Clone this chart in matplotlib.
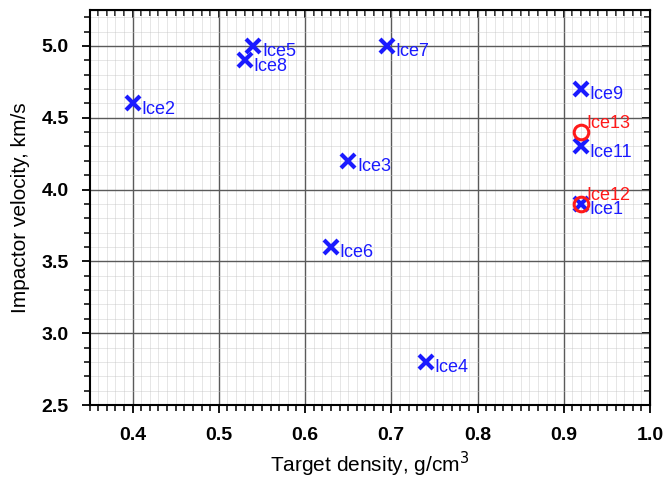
import matplotlib
matplotlib.use("Agg")
import matplotlib.pyplot as plt
from matplotlib.ticker import MultipleLocator

plt.rcParams['font.family'] = ['Liberation Sans', 'DejaVu Sans']

blue_names = ["Ice1", "Ice2", "Ice3", "Ice4", "Ice5", "Ice6", "Ice7", "Ice8", "Ice9", "Ice11"]
blue_density = [0.92, 0.40, 0.65, 0.74, 0.54, 0.63, 0.695, 0.53, 0.92, 0.92]
blue_velocity = [3.9, 4.6, 4.2, 2.8, 5.0, 3.6, 5.0, 4.9, 4.7, 4.3]

red_names = ["Ice12", "Ice13"]
red_density = [0.92, 0.92]
red_velocity = [3.9, 4.4]

x_ticks = [0.4, 0.5, 0.6, 0.7, 0.8, 0.9, 1.0]
y_ticks = [2.5, 3.0, 3.5, 4.0, 4.5, 5.0]

fig = plt.figure(figsize=(6.67, 4.83), dpi=100)
ax = fig.add_axes([89.5 / 667, 1 - 405 / 483, (650 - 89.5) / 667, (405 - 10) / 483])

ax.set_xlim(0.35, 1.0)
ax.set_ylim(2.5, 5.25)

ax.xaxis.set_major_locator(MultipleLocator(0.1))
ax.xaxis.set_minor_locator(MultipleLocator(0.01))
ax.yaxis.set_major_locator(MultipleLocator(0.5))
ax.yaxis.set_minor_locator(MultipleLocator(0.1))
ax.set_xticks(x_ticks)
ax.set_xticklabels([f"{v:.1f}" for v in x_ticks], fontweight='bold', fontsize=14)
ax.set_yticks(y_ticks)
ax.set_yticklabels([f"{v:.1f}" for v in y_ticks], fontweight='bold', fontsize=14)

ax.grid(which='major', color='#5a5a5a', linewidth=1.0, linestyle='-')
ax.grid(which='minor', color='#c4c4c4', linewidth=0.6, linestyle=(0, (1.2, 1.2)))
ax.set_axisbelow(True)

ax.tick_params(which='both', direction='out', bottom=True, left=True, top=False, right=False, color='black')
ax.tick_params(which='major', length=6, width=1.3)
ax.tick_params(which='minor', length=4, width=1.1)
ax.tick_params(axis='y', which='major', pad=9)
ax.tick_params(axis='x', which='major', pad=10)

# mirrored inward ticks on top and right
axt = ax.secondary_xaxis('top')
axt.xaxis.set_major_locator(MultipleLocator(0.1))
axt.xaxis.set_minor_locator(MultipleLocator(0.01))
axt.tick_params(which='both', direction='in', labeltop=False, color='black')
axt.tick_params(which='major', length=6, width=1.3)
axt.tick_params(which='minor', length=4, width=1.1)
axr = ax.secondary_yaxis('right')
axr.yaxis.set_major_locator(MultipleLocator(0.5))
axr.yaxis.set_minor_locator(MultipleLocator(0.1))
axr.tick_params(which='both', direction='in', labelright=False, color='black')
axr.tick_params(which='major', length=6, width=1.3)
axr.tick_params(which='minor', length=4, width=1.1)

for sp in ax.spines.values():
    sp.set_linewidth(1.5)
    sp.set_color('black')

ax.plot(blue_density, blue_velocity, linestyle='none', marker='x', color='#1a1aff',
        markersize=10, markeredgewidth=3.0, zorder=3)
ax.plot(red_density, red_velocity, linestyle='none', marker='o', markerfacecolor='none',
        markeredgecolor='#ff1a1a', markersize=10.5, markeredgewidth=2.2, zorder=4)

for n, xv, yv in zip(blue_names, blue_density, blue_velocity):
    ax.annotate(n, (xv, yv), xytext=(6.3, -4.2), textcoords='offset points',
                ha='left', va='center', color='#1a1aff', fontsize=13, zorder=5)
for n, xv, yv in zip(red_names, red_density, red_velocity):
    ax.annotate(n, (xv, yv), xytext=(3.5, 0.0), textcoords='offset points',
                ha='left', va='bottom', color='#ff1a1a', fontsize=13, zorder=5)

ax.set_xlabel("Target density, g/cm$^3$", fontsize=15, labelpad=4)
ax.set_ylabel("Impactor velocity, km/s", fontsize=15, labelpad=8)

fig.savefig("out.png", dpi=100)
